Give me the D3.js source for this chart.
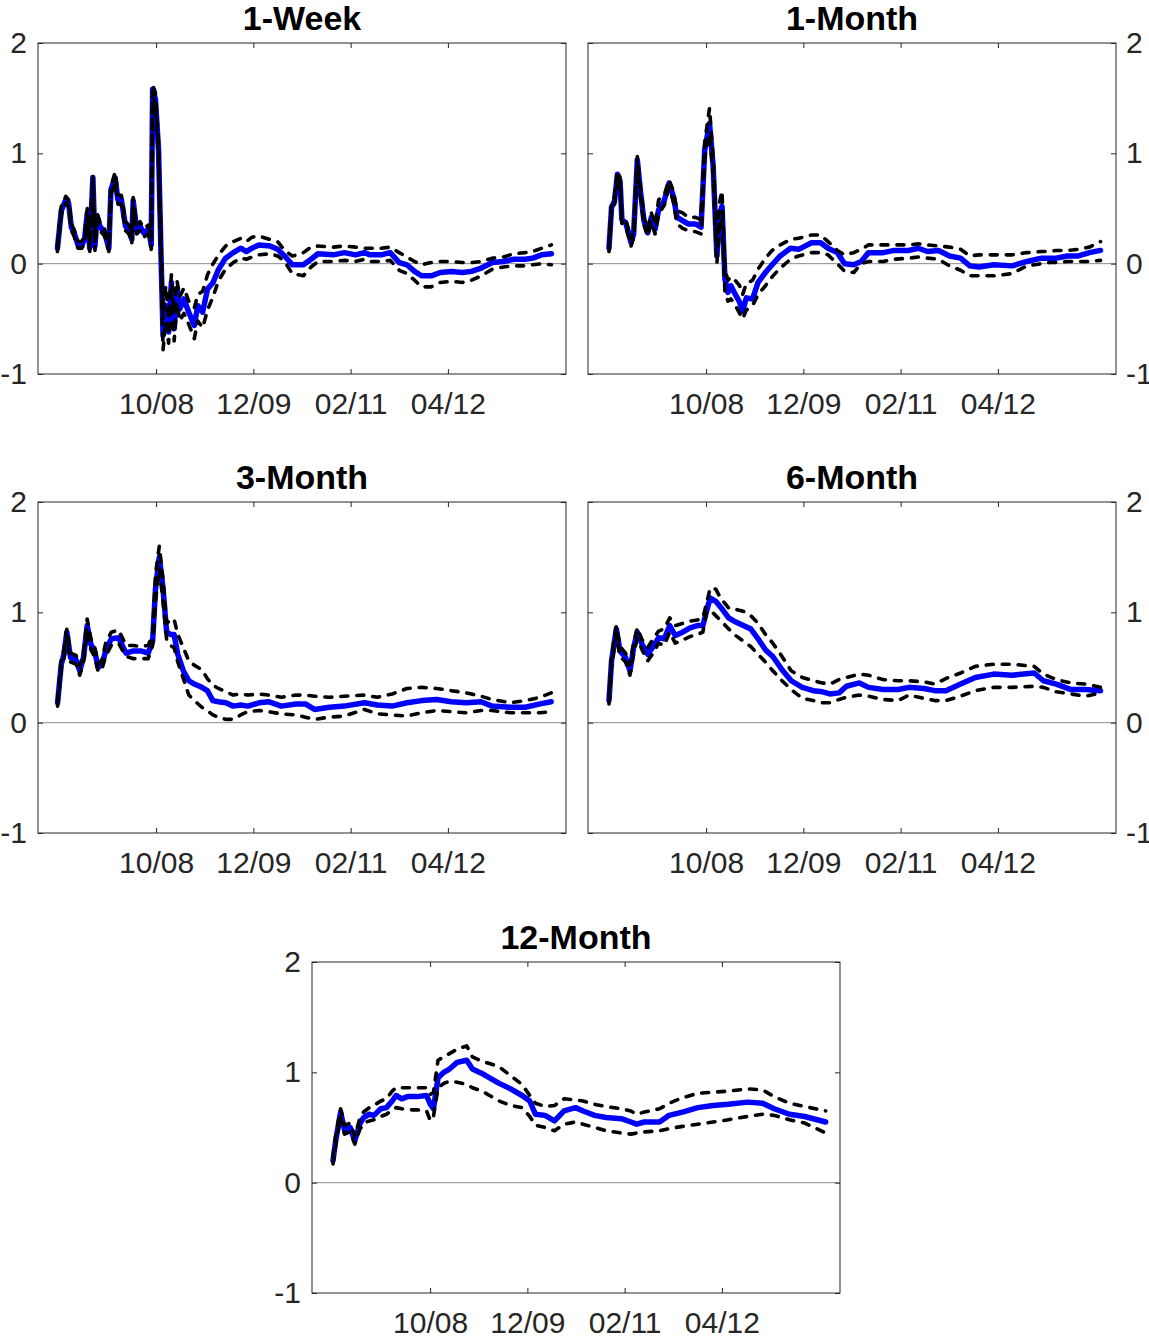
<!DOCTYPE html>
<html>
<head>
<meta charset="utf-8">
<script src="https://cdn.jsdelivr.net/npm/d3@7"></script>
<style>
  html, body { margin: 0; padding: 0; background: #ffffff; }
  svg { display: block; }
  text { font-family: "Liberation Sans", Arial, Helvetica, sans-serif; }
</style>
</head>
<body>
<svg id="chart" width="1149" height="1338"></svg>
<script>
// ---------------- DATA (time = months since Jan 2007) ----------------
const yTicks = [-1, 0, 1, 2];
const yTickLabels = ["-1", "0", "1", "2"];
const xTickMonths = [21, 35, 49, 63];
const xTickLabels = ["10/08", "12/09", "02/11", "04/12"];
const titles = ["1-Week", "1-Month", "3-Month", "6-Month", "12-Month"];

// 1-Week
const w1Months = [6.8,7.35,8.0,8.4,8.8,9.2,9.75,10.3,10.7,11.1,11.45,11.9,12.2,12.5,12.9,13.6,14.2,14.5,15.1,15.5,16.0,16.6,17.1,17.5,17.7,18.2,18.7,19.2,19.9,20.3,20.5,20.9,21.35,21.7,22.0,22.4,22.8,23.2,23.6,24.0,24.4,25.0,25.7,26.5,27.0,27.7,28.4,29.2,30.0,31.0,32.1,33.2,34.0,34.8,35.8,37.4,38.5,39.5,40.6,41.4,42.2,43.3,44.3,46.5,48.1,49.7,51.0,51.8,53.4,54.7,56.0,57.1,58.2,59.2,60.6,61.9,63.5,65.1,66.4,67.8,69.4,71.0,72.5,74.1,75.2,76.5,77.9];
const w1Mid = [0.14,0.48,0.58,0.55,0.33,0.28,0.17,0.17,0.22,0.46,0.14,0.78,0.16,0.43,0.34,0.28,0.14,0.67,0.78,0.58,0.58,0.34,0.31,0.22,0.57,0.31,0.34,0.28,0.31,0.17,1.58,1.49,1.03,0.10,-0.65,-0.38,-0.62,-0.17,-0.59,-0.23,-0.41,-0.32,-0.44,-0.56,-0.38,-0.44,-0.23,-0.17,-0.05,0.05,0.10,0.14,0.11,0.14,0.17,0.16,0.13,0.07,-0.01,-0.01,-0.01,0.04,0.09,0.08,0.10,0.08,0.10,0.08,0.08,0.10,0.01,-0.01,-0.07,-0.11,-0.11,-0.08,-0.07,-0.08,-0.07,-0.04,0.01,0.02,0.04,0.04,0.05,0.08,0.09];
const w1Upper = [0.17,0.52,0.61,0.58,0.36,0.31,0.20,0.20,0.26,0.50,0.18,0.80,0.20,0.46,0.38,0.31,0.17,0.70,0.83,0.62,0.62,0.38,0.35,0.26,0.60,0.35,0.38,0.32,0.35,0.21,1.62,1.55,1.10,0.20,-0.50,-0.20,-0.50,-0.10,-0.45,-0.15,-0.30,-0.22,-0.34,-0.40,-0.28,-0.25,-0.10,0.00,0.08,0.16,0.20,0.23,0.20,0.24,0.25,0.22,0.20,0.12,0.07,0.08,0.10,0.15,0.16,0.15,0.16,0.15,0.14,0.14,0.14,0.15,0.10,0.06,0.02,-0.01,0.01,0.02,0.02,0.01,0.01,0.02,0.05,0.06,0.09,0.10,0.11,0.14,0.17];
const w1Lower = [0.11,0.44,0.55,0.52,0.30,0.25,0.14,0.14,0.18,0.42,0.11,0.75,0.12,0.40,0.30,0.25,0.11,0.63,0.74,0.54,0.54,0.30,0.27,0.18,0.53,0.27,0.30,0.24,0.27,0.13,1.54,1.43,0.95,0.00,-0.78,-0.52,-0.72,-0.28,-0.70,-0.35,-0.52,-0.45,-0.55,-0.68,-0.52,-0.58,-0.42,-0.30,-0.15,-0.05,0.01,0.05,0.04,0.06,0.08,0.09,0.07,0.02,-0.09,-0.10,-0.11,-0.03,0.02,0.02,0.03,0.02,0.04,0.02,0.02,0.03,-0.06,-0.09,-0.15,-0.21,-0.21,-0.17,-0.16,-0.17,-0.15,-0.11,-0.05,-0.03,-0.02,-0.02,-0.01,0.00,-0.01];

// 1-Month
const m1Months = [7.02,7.39,7.82,8.24,8.61,8.88,9.41,9.83,10.2,10.57,11.1,11.53,12.05,12.59,13.12,13.65,14.17,14.97,15.66,16.29,16.82,17.62,18.41,19.47,20.27,20.8,21.49,22.02,22.55,22.92,23.29,23.71,24.14,24.56,25.04,25.83,26.26,26.79,27.69,28.48,29.54,30.5,31.66,33.15,34.31,36.17,37.49,38.55,39.88,40.94,42.26,43.32,44.38,46.5,48.09,50.21,51.54,52.86,54.45,56.04,57.63,58.96,60.28,62.4,65.05,67.17,69.29,70.35,71.41,73.0,74.59,76.18,77.77];
const m1Mid = [0.14,0.51,0.57,0.81,0.75,0.40,0.37,0.28,0.19,0.27,0.94,0.67,0.39,0.28,0.42,0.31,0.49,0.57,0.73,0.61,0.42,0.39,0.36,0.36,0.33,1.03,1.27,0.88,0.07,0.43,0.52,-0.14,-0.26,-0.20,-0.26,-0.35,-0.43,-0.31,-0.32,-0.17,-0.08,-0.01,0.07,0.14,0.13,0.19,0.19,0.14,0.10,0.00,-0.01,0.02,0.10,0.10,0.12,0.12,0.14,0.11,0.12,0.07,0.05,-0.02,-0.03,-0.01,-0.02,0.02,0.05,0.05,0.05,0.07,0.07,0.10,0.12];
const m1Upper = [0.17,0.55,0.61,0.84,0.78,0.44,0.40,0.31,0.22,0.30,0.97,0.70,0.42,0.31,0.46,0.35,0.58,0.62,0.76,0.66,0.48,0.46,0.42,0.42,0.40,1.10,1.41,0.95,0.15,0.55,0.66,-0.05,-0.15,-0.12,-0.14,-0.20,-0.28,-0.18,-0.15,-0.05,0.05,0.12,0.17,0.22,0.23,0.26,0.26,0.20,0.12,0.08,0.10,0.13,0.17,0.17,0.17,0.17,0.18,0.17,0.16,0.15,0.13,0.07,0.08,0.08,0.08,0.10,0.11,0.11,0.12,0.12,0.13,0.15,0.20];
const m1Lower = [0.11,0.47,0.53,0.77,0.71,0.36,0.33,0.25,0.16,0.24,0.90,0.63,0.35,0.25,0.38,0.27,0.45,0.53,0.69,0.56,0.36,0.32,0.30,0.29,0.27,0.96,1.18,0.80,0.00,0.35,0.42,-0.26,-0.34,-0.32,-0.36,-0.45,-0.50,-0.42,-0.38,-0.28,-0.20,-0.12,-0.04,0.04,0.07,0.10,0.10,0.08,0.00,-0.07,-0.08,0.00,0.02,0.02,0.04,0.05,0.06,0.05,0.04,-0.02,-0.06,-0.11,-0.11,-0.11,-0.09,-0.02,0.00,0.01,0.01,0.02,0.02,0.02,0.03];

// 3-Month
const m3Months = [6.82,7.35,7.73,8.15,8.68,9.48,10.01,10.55,11.08,11.61,12.14,12.67,13.21,13.74,14.54,15.60,16.67,17.73,18.79,19.86,20.50,20.92,21.46,21.99,22.52,23.05,23.58,24.12,24.92,25.71,26.51,27.58,28.37,29.17,29.97,31.04,32.10,33.16,34.23,35.83,37.16,39.02,41.15,42.48,43.81,45.94,48.07,50.99,52.86,54.98,57.11,59.24,61.37,63.50,65.63,67.76,69.36,72.02,74.14,76.27,77.87];
const m3Mid = [0.18,0.53,0.62,0.82,0.59,0.57,0.47,0.59,0.88,0.71,0.65,0.50,0.53,0.65,0.76,0.77,0.63,0.65,0.65,0.63,0.74,1.22,1.50,1.22,0.82,0.80,0.80,0.62,0.47,0.38,0.35,0.32,0.29,0.20,0.19,0.18,0.15,0.16,0.15,0.18,0.19,0.15,0.17,0.17,0.12,0.14,0.15,0.18,0.16,0.15,0.18,0.20,0.21,0.19,0.18,0.19,0.15,0.14,0.14,0.17,0.19];
const m3Upper = [0.21,0.57,0.66,0.85,0.63,0.61,0.51,0.63,0.94,0.76,0.69,0.53,0.57,0.72,0.82,0.84,0.70,0.70,0.69,0.70,0.80,1.35,1.60,1.30,0.90,0.93,0.94,0.80,0.68,0.56,0.52,0.48,0.40,0.34,0.31,0.28,0.25,0.26,0.25,0.26,0.25,0.23,0.25,0.25,0.24,0.23,0.24,0.25,0.23,0.26,0.31,0.32,0.31,0.29,0.27,0.24,0.21,0.18,0.20,0.23,0.27];
const m3Lower = [0.15,0.49,0.58,0.78,0.55,0.53,0.43,0.55,0.83,0.66,0.60,0.46,0.49,0.60,0.70,0.72,0.60,0.58,0.58,0.58,0.70,1.10,1.40,1.10,0.75,0.70,0.68,0.55,0.40,0.25,0.20,0.14,0.11,0.07,0.05,0.03,0.03,0.07,0.10,0.11,0.10,0.08,0.07,0.05,0.03,0.05,0.06,0.12,0.08,0.07,0.06,0.09,0.11,0.10,0.09,0.11,0.11,0.09,0.09,0.09,0.10];

// 6-Month
const m6Months = [7.02,7.39,8.08,8.61,9.41,10.04,10.57,11.10,11.79,12.59,13.38,14.17,14.97,15.76,16.56,17.62,18.68,19.74,20.53,21.06,21.59,22.39,23.18,24.24,25.04,26.36,27.42,28.48,29.54,30.60,31.93,33.25,34.84,36.43,37.76,38.82,40.14,41.20,43.06,44.38,46.50,48.62,50.21,52.33,53.92,55.51,57.63,59.75,62.40,65.05,68.23,69.55,71.41,73.53,75.65,77.77];
const m6Mid = [0.20,0.56,0.85,0.65,0.59,0.47,0.68,0.82,0.71,0.62,0.69,0.77,0.76,0.88,0.79,0.82,0.86,0.88,0.88,1.01,1.13,1.10,1.04,0.95,0.92,0.88,0.85,0.76,0.66,0.60,0.48,0.38,0.32,0.29,0.28,0.26,0.27,0.33,0.36,0.32,0.30,0.30,0.32,0.31,0.29,0.29,0.35,0.41,0.44,0.43,0.45,0.38,0.35,0.30,0.30,0.29];
const m6Upper = [0.23,0.60,0.88,0.69,0.63,0.52,0.72,0.86,0.75,0.68,0.76,0.83,0.85,0.95,0.88,0.90,0.92,0.93,0.95,1.08,1.22,1.21,1.12,1.04,1.03,1.01,0.97,0.90,0.80,0.72,0.60,0.47,0.41,0.38,0.36,0.35,0.39,0.41,0.44,0.43,0.39,0.38,0.38,0.37,0.35,0.40,0.45,0.51,0.53,0.53,0.51,0.44,0.39,0.36,0.35,0.32];
const m6Lower = [0.17,0.52,0.80,0.60,0.55,0.43,0.63,0.76,0.66,0.56,0.63,0.72,0.70,0.82,0.72,0.75,0.78,0.80,0.82,1.00,1.02,0.97,0.92,0.85,0.80,0.74,0.69,0.62,0.55,0.47,0.38,0.30,0.22,0.20,0.18,0.18,0.21,0.23,0.25,0.24,0.21,0.20,0.25,0.22,0.20,0.20,0.24,0.29,0.32,0.32,0.33,0.32,0.28,0.26,0.24,0.27];

// 12-Month
const m12Months = [7.02,7.41,8.12,8.67,9.50,10.16,10.87,11.42,12.25,12.91,13.90,14.72,15.54,16.09,16.92,17.74,19.12,20.49,21.04,21.48,22.14,22.97,23.79,24.89,26.27,27.09,28.46,29.56,30.94,32.59,34.24,35.34,36.16,37.54,38.91,40.28,41.93,43.03,44.68,46.33,48.53,49.90,50.73,51.83,54.03,55.40,57.33,59.53,61.72,63.92,66.67,68.87,70.52,72.72,74.92,77.94];
const m12Mid = [0.20,0.38,0.64,0.48,0.50,0.38,0.53,0.59,0.62,0.61,0.67,0.68,0.74,0.79,0.76,0.78,0.78,0.79,0.71,0.67,0.95,1.00,1.03,1.09,1.11,1.03,0.99,0.95,0.90,0.85,0.79,0.74,0.62,0.61,0.56,0.65,0.68,0.65,0.61,0.59,0.58,0.55,0.53,0.55,0.55,0.61,0.64,0.68,0.70,0.71,0.73,0.72,0.67,0.62,0.60,0.55];
const m12Upper = [0.23,0.42,0.67,0.52,0.54,0.42,0.58,0.64,0.68,0.70,0.74,0.76,0.83,0.86,0.86,0.86,0.86,0.86,0.80,0.82,1.11,1.14,1.17,1.21,1.24,1.14,1.10,1.08,1.05,0.97,0.89,0.79,0.72,0.69,0.70,0.76,0.75,0.74,0.71,0.69,0.67,0.65,0.62,0.64,0.67,0.72,0.77,0.81,0.82,0.83,0.85,0.84,0.78,0.72,0.69,0.65];
const m12Lower = [0.17,0.34,0.60,0.44,0.46,0.35,0.48,0.54,0.56,0.57,0.60,0.62,0.66,0.68,0.67,0.66,0.66,0.65,0.56,0.60,0.86,0.90,0.92,0.91,0.89,0.86,0.83,0.79,0.74,0.70,0.68,0.60,0.52,0.50,0.47,0.53,0.55,0.53,0.50,0.47,0.45,0.44,0.45,0.46,0.47,0.49,0.51,0.53,0.55,0.57,0.60,0.62,0.61,0.57,0.54,0.45];

// ---------------- LAYOUT ----------------
const W = 528, H = 331;
const panels = [
  { title: titles[0], t: w1Months,  mid: w1Mid,  up: w1Upper,  lo: w1Lower,  x: 38,  y: 43,  side: "left"  },
  { title: titles[1], t: m1Months,  mid: m1Mid,  up: m1Upper,  lo: m1Lower,  x: 588, y: 43,  side: "right" },
  { title: titles[2], t: m3Months,  mid: m3Mid,  up: m3Upper,  lo: m3Lower,  x: 38,  y: 502, side: "left"  },
  { title: titles[3], t: m6Months,  mid: m6Mid,  up: m6Upper,  lo: m6Lower,  x: 588, y: 502, side: "right" },
  { title: titles[4], t: m12Months, mid: m12Mid, up: m12Upper, lo: m12Lower, x: 312, y: 962, side: "left"  }
];

const svg = d3.select("#chart");
const axisColor = "#262626";

const x = d3.scaleLinear().domain([4, 80]).range([0, W]);
const y = d3.scaleLinear().domain([-1, 2]).range([H, 0]);

panels.forEach(p => {
  const g = svg.append("g").attr("transform", `translate(${p.x},${p.y})`);

  // zero line
  g.append("line")
    .attr("x1", 0).attr("x2", W)
    .attr("y1", y(0)).attr("y2", y(0))
    .attr("stroke", "#8c8c8c").attr("stroke-width", 1);

  const pts = (vals) => p.t.map((t, i) => [t, vals[i]]);
  const line = d3.line().x(d => x(d[0])).y(d => y(d[1]));

  g.append("path").datum(pts(p.mid))
    .attr("d", line).attr("fill", "none")
    .attr("stroke", "#0000ff").attr("stroke-width", 5.5)
    .attr("stroke-linejoin", "round").attr("stroke-linecap", "round");

  [p.up, p.lo].forEach(vals => {
    g.append("path").datum(pts(vals))
      .attr("d", line).attr("fill", "none")
      .attr("stroke", "#000000").attr("stroke-width", 3.6)
      .attr("stroke-dasharray", "7,9")
      .attr("stroke-linecap", "round")
      .attr("stroke-linejoin", "round");
  });

  // axes (inward ticks)
  const fmtX = (d) => xTickLabels[xTickMonths.indexOf(d)];
  const fmtY = (d) => yTickLabels[yTicks.indexOf(d)];

  const bottom = g.append("g").attr("transform", `translate(0,${H})`)
    .call(d3.axisBottom(x).tickValues(xTickMonths).tickFormat(fmtX).tickSizeInner(-5).tickSizeOuter(0).tickPadding(19));
  const top = g.append("g")
    .call(d3.axisTop(x).tickValues(xTickMonths).tickFormat("").tickSizeInner(-5).tickSizeOuter(0));
  const leftAx = g.append("g")
    .call((p.side === "left" ? d3.axisLeft(y).tickFormat(fmtY).tickPadding(11) : d3.axisLeft(y).tickFormat(""))
      .tickValues(yTicks).tickSizeInner(-5).tickSizeOuter(0));
  const rightAx = g.append("g").attr("transform", `translate(${W},0)`)
    .call((p.side === "right" ? d3.axisRight(y).tickFormat(fmtY).tickPadding(10) : d3.axisRight(y).tickFormat(""))
      .tickValues(yTicks).tickSizeInner(-5).tickSizeOuter(0));

  [bottom, top, leftAx, rightAx].forEach(a => {
    a.select(".domain").remove();
    a.selectAll(".tick line").attr("stroke", axisColor).attr("stroke-width", 1);
    a.selectAll(".tick text")
      .attr("fill", axisColor)
      .style("font-size", "30px")
      .style("font-family", '"Liberation Sans", Arial, sans-serif');
  });

  // box
  g.append("rect").attr("x", 0).attr("y", 0).attr("width", W).attr("height", H)
    .attr("fill", "none").attr("stroke", axisColor).attr("stroke-width", 1);

  // title
  g.append("text")
    .attr("x", W / 2).attr("y", -13)
    .attr("text-anchor", "middle")
    .style("font-size", "34px").style("font-weight", "bold")
    .attr("fill", "#000")
    .text(p.title);
});
</script>
</body>
</html>
